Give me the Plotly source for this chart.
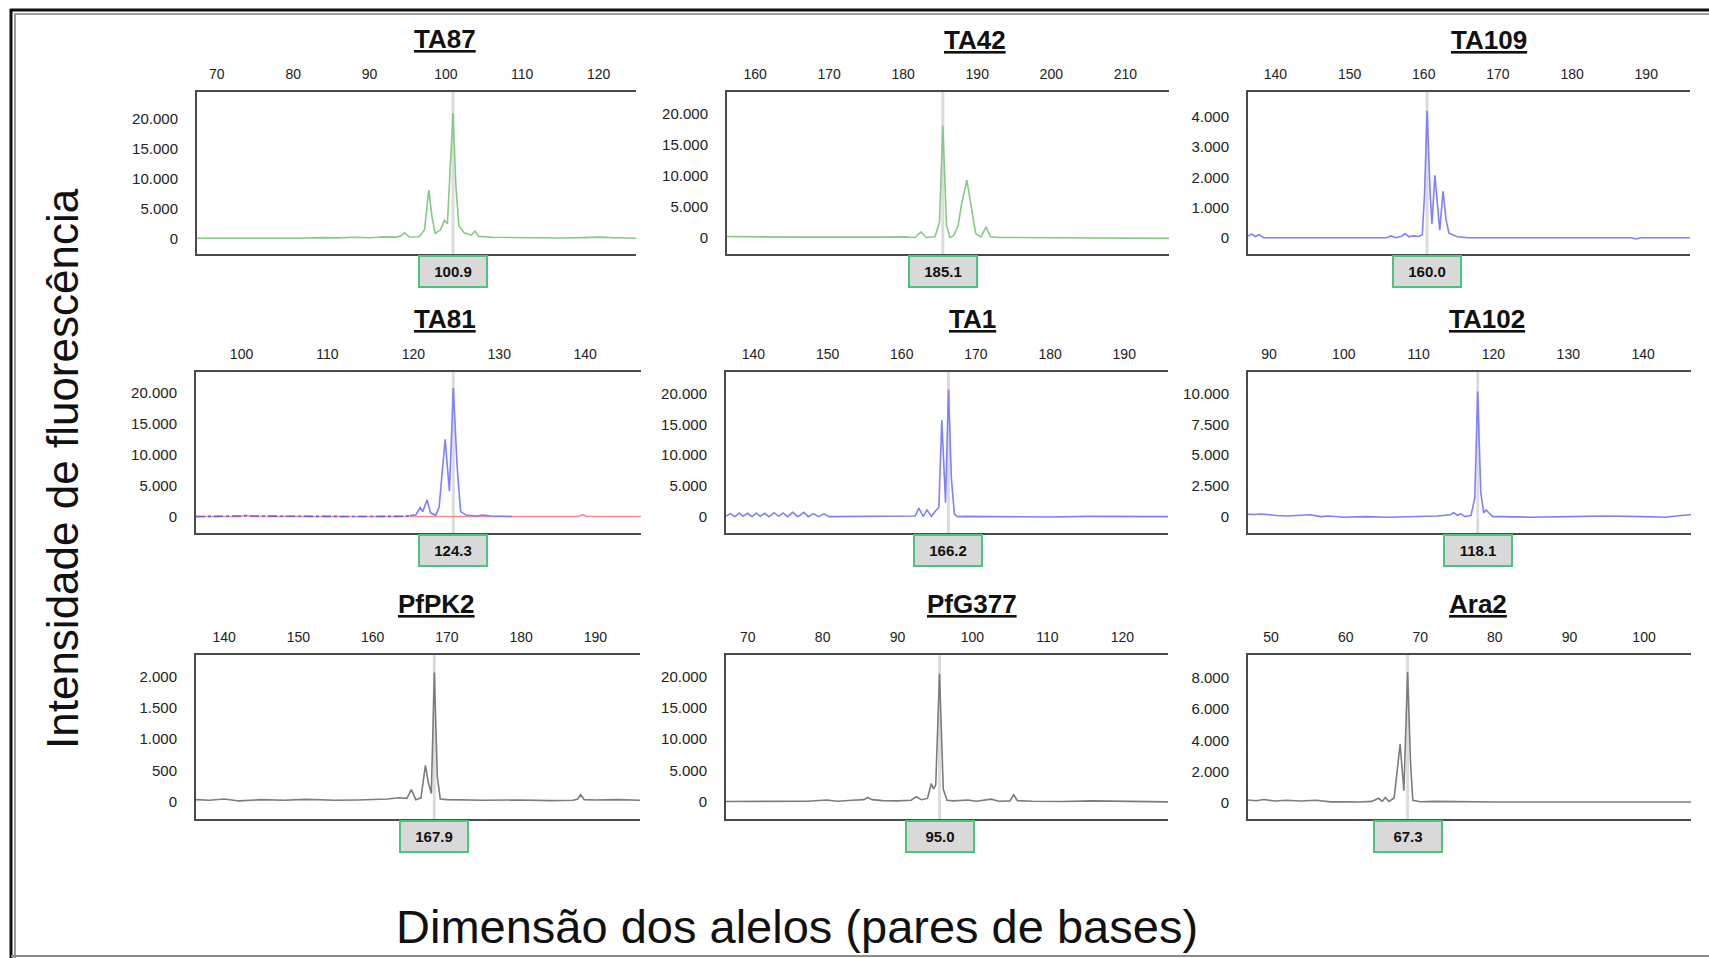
import plotly.graph_objects as go

W, H = 1709, 958

# ---------------- data ----------------
panel_names = ["TA87", "TA42", "TA109", "TA81", "TA1", "TA102", "PfPK2", "PfG377", "Ara2"]
allele_labels = ["100.9", "185.1", "160.0", "124.3", "166.2", "118.1", "167.9", "95.0", "67.3"]
guide_pos = [100.93, 185.35, 160.45, 124.65, 166.3, 117.9, 168.3, 95.6, 68.3]

x_ticks = [
    [70, 80, 90, 100, 110, 120],
    [160, 170, 180, 190, 200, 210],
    [140, 150, 160, 170, 180, 190],
    [100, 110, 120, 130, 140],
    [140, 150, 160, 170, 180, 190],
    [90, 100, 110, 120, 130, 140],
    [140, 150, 160, 170, 180, 190],
    [70, 80, 90, 100, 110, 120],
    [50, 60, 70, 80, 90, 100],
]
y_ticks = [
    [0, 5000, 10000, 15000, 20000],
    [0, 5000, 10000, 15000, 20000],
    [0, 1000, 2000, 3000, 4000],
    [0, 5000, 10000, 15000, 20000],
    [0, 5000, 10000, 15000, 20000],
    [0, 2500, 5000, 7500, 10000],
    [0, 500, 1000, 1500, 2000],
    [0, 5000, 10000, 15000, 20000],
    [0, 2000, 4000, 6000, 8000],
]
x_ranges = [
    [67.4, 124.9], [156.2, 215.9], [136.3, 195.9],
    [94.7, 146.5], [136.3, 195.9], [87.2, 146.4],
    [136.2, 196.0], [67.1, 126.1], [46.9, 106.3],
]
y_ranges = [
    [-2545, 24545], [-2680, 23570], [-540, 4830],
    [-2660, 23370], [-2660, 23550], [-1330, 11770],
    [-280, 2350], [-2800, 23500], [-1050, 9470],
]

TA87_x = [67.4, 72, 76, 80, 84, 86, 88, 90, 92, 93.5, 94.1, 94.6, 95.2, 96.5, 97.2, 97.76, 98.2, 98.6, 99.3, 99.8,
          100.2, 100.55, 100.93, 101.3, 101.7, 102.4, 103.3, 103.8, 104.3, 106, 110, 115, 118, 120, 122, 124.9]
TA87_y = [100, 80, 120, 100, 200, 150, 250, 180, 320, 280, 450, 1050, 300, 350, 1500, 8130, 3500, 900, 1500, 3080,
          2500, 12000, 21040, 9000, 2200, 1000, 600, 1300, 400, 250, 150, 120, 200, 280, 180, 100]

TA42_x = [156.2, 160, 165, 170, 175, 178, 180, 181.6, 182.4, 183.1, 184.3, 184.9, 185.35, 185.85, 186.3, 186.8,
          187.4, 187.9, 188.6, 189.2, 189.8, 190.5, 191.2, 191.8, 193, 200, 205, 210, 215.9]
TA42_y = [150, 80, 50, 60, 0, 50, 100, 0, 900, 0, 100, 2500, 18150, 2000, 0, 300,
          1850, 5500, 9300, 5200, 600, 100, 1700, 100, 0, -50, -50, -100, -150]

TA109_x = [136.3, 136.8, 137.3, 137.8, 138.4, 140, 145, 150, 155, 155.6, 156.2, 157.0, 157.5, 158.0, 158.6, 159.3,
           159.8, 160.1, 160.45, 160.85, 161.1, 161.5, 161.9, 162.15, 162.6, 163.0, 163.4, 163.8, 164.5, 166, 170,
           180, 188, 188.6, 189.2, 195.9]
TA109_y = [60, 120, 40, 100, 0, 0, 0, 0, 0, 60, 0, 50, 140, 30, 60, 40,
           100, 1400, 4210, 1500, 450, 2070, 900, 250, 1540, 600, 150, 100, 30, 0, 0,
           0, 0, -40, 0, 0]

TA81_base_x = [94.7, 100.5, 105.5, 110, 115, 119.0, 119.6]
TA81_base_y = [0, 100, 50, 0, 0, 50, 150]
TA81_x = [119.6, 120.3, 120.8, 121.1, 121.6, 122.0, 122.6, 123.0, 123.7, 124.2, 124.65, 125.1, 125.5, 126.2,
          127.5, 128, 129, 131.5]
TA81_y = [150, 300, 1470, 800, 2700, 600, 200, 1500, 12500, 4080, 20760, 8000, 800, 200,
          100, 250, 100, 0]
TA81_red_x = [94.7, 100, 100.5, 101, 139.2, 139.7, 140.2, 146.5]
TA81_red_y = [0, 0, 250, 0, 0, 300, 0, 0]

TA1_x = [136.3, 136.9, 137.5, 138.1, 138.6, 139.2, 139.8, 140.4, 140.9, 141.5, 142.1, 142.8, 143.4, 144.0, 144.6,
         145.3, 146.0, 146.8, 147.4, 148.1, 148.8, 149.5, 150.2, 155, 160, 161.8, 162.3, 162.9, 163.4, 164.0,
         164.6, 165.0, 165.4, 165.9, 166.3, 166.7, 167.1, 167.5, 168.5, 175, 180, 185, 190, 195.9]
TA1_y = [100, 500, 0, 600, 50, 550, 0, 600, 50, 550, 0, 650, 50, 600, 0,
         700, 0, 700, 0, 500, 0, 450, 0, 50, 0, 100, 1400, 0, 1100, 50,
         1000, 1500, 15700, 2300, 20700, 6000, 400, 0, 50, 0, -50, 50, 0, 0]

TA102_x = [87.2, 88, 89, 90, 91, 92.5, 94, 95.5, 97, 98, 100, 103, 106, 110, 112.5, 114.2, 114.7, 115.2, 115.6,
           116.2, 117.0, 117.5, 117.9, 118.3, 118.7, 119.0, 119.5, 119.9, 121, 125, 130, 135, 140, 143, 145, 146.4]
TA102_y = [200, 180, 220, 150, 100, 50, 80, 150, 0, 50, -50, 0, -50, 0, 50, 150, 330, 100, 250,
           0, 100, 1500, 10190, 2000, 300, 540, 250, 0, 0, -50, 0, 50, 0, -50, 100, 150]

PfPK2_x = [136.2, 138, 140, 142, 145, 148, 151, 155, 158, 160, 162, 163.5, 164.6, 165.2, 165.8, 166.5, 166.8,
           167.1, 167.5, 167.9, 168.3, 168.7, 169.1, 170, 175, 180, 184, 187, 187.6, 188.0, 188.5, 190, 193, 196.0]
PfPK2_y = [30, 20, 40, 10, 30, 20, 35, 20, 25, 30, 40, 60, 50, 190, 30, 60, 350,
           580, 300, 130, 2070, 400, 40, 30, 20, 25, 15, 20, 40, 110, 30, 25, 30, 20]

PfG377_x = [67.1, 70, 75, 78, 80.5, 82, 84, 85.5, 86.0, 86.6, 88, 90, 91.8, 92.5, 93.2, 94.0, 94.5, 94.8, 95.1,
            95.6, 96.1, 96.6, 97.5, 99.4, 100.5, 102.5, 103.5, 105.0, 105.5, 106.0, 108, 112, 116, 120, 126.1]
PfG377_y = [0, 0, 100, 50, 250, 50, 200, 300, 650, 300, 150, 100, 200, 760, 300, 500, 2900, 2000, 2700,
            20500, 2000, 200, 100, 250, 50, 380, 50, 100, 1090, 150, 50, 0, 100, 0, -50]

Ara2_x = [46.9, 48, 49, 50.5, 52, 54, 56, 58, 60, 62, 63.5, 64.4, 64.9, 65.3, 65.8, 66.5, 67.3, 67.8, 68.3, 68.7,
          69.0, 70, 72, 74, 76, 80, 90, 100, 106.3]
Ara2_y = [170, 120, 200, 100, 150, 100, 150, 50, 60, 40, 80, 280, 80, 330, 80, 300, 3760, 760, 8370, 2500,
          150, 60, 80, 60, 40, 40, 40, 40, 40]

# ---------------- styling / layout ----------------
GREEN = "#86c986"
BLUE = "#7f7fff"
GRAY = "#7c7c7c"
RED = "#ff8c8c"
FONT = "Liberation Sans, Arial, sans-serif"


def fmt_thousands(v):
    return f"{v:,}".replace(",", ".")


# plot boxes in pixels: left, top, right, bottom
boxes = [
    (197, 92, 636, 254), (727, 92, 1169, 254), (1248, 92, 1690, 254),
    (196, 372, 641, 533), (726, 372, 1168, 533), (1248, 372, 1691, 533),
    (196, 655, 640, 819), (726, 655, 1168, 819), (1248, 655, 1691, 819),
]
title_pos = [(445, 39), (975, 40), (1489, 40), (445, 319), (972, 319), (1487, 319),
             (436, 604), (972, 604), (1478, 604)]

series = [
    [(TA87_x, TA87_y, GREEN, "solid")],
    [(TA42_x, TA42_y, GREEN, "solid")],
    [(TA109_x, TA109_y, BLUE, "solid")],
    [(TA81_red_x, TA81_red_y, RED, "solid"), (TA81_base_x, TA81_base_y, "#7a5ad8", "dashdot"),
     (TA81_x, TA81_y, BLUE, "solid")],
    [(TA1_x, TA1_y, BLUE, "solid")],
    [(TA102_x, TA102_y, BLUE, "solid")],
    [(PfPK2_x, PfPK2_y, GRAY, "solid")],
    [(PfG377_x, PfG377_y, GRAY, "solid")],
    [(Ara2_x, Ara2_y, GRAY, "solid")],
]

fig = go.Figure()
shapes = []
annotations = []
layout_axes = {}

for i in range(9):
    n = i + 1
    xa = "x" if n == 1 else f"x{n}"
    ya = "y" if n == 1 else f"y{n}"
    l, t, r, b = boxes[i]
    for (xs, ys, col, dash) in series[i]:
        fig.add_trace(go.Scatter(x=xs, y=ys, mode="lines", xaxis=xa, yaxis=ya,
                                 line=dict(color=col, width=1.6, dash=dash),
                                 hoverinfo="skip", showlegend=False))
    layout_axes["xaxis" if n == 1 else f"xaxis{n}"] = dict(
        domain=[l / W, r / W], anchor=ya, side="top", range=x_ranges[i],
        tickmode="array", tickvals=x_ticks[i], ticktext=[str(v) for v in x_ticks[i]],
        showgrid=False, zeroline=False,
        showline=True, mirror=True, linecolor="#4a4a4a", linewidth=2,
        ticks="outside", ticklen=5, tickcolor="rgba(0,0,0,0)",
        tickfont=dict(family=FONT, size=14, color="#222"),
    )
    layout_axes["yaxis" if n == 1 else f"yaxis{n}"] = dict(
        domain=[1 - b / H, 1 - t / H], anchor=xa, range=y_ranges[i],
        tickmode="array", tickvals=y_ticks[i], ticktext=[fmt_thousands(v) for v in y_ticks[i]],
        showgrid=False, zeroline=False,
        showline=True, mirror=False, linecolor="#4a4a4a", linewidth=2,
        ticks="outside", ticklen=14, tickcolor="rgba(0,0,0,0)",
        tickfont=dict(family=FONT, size=15, color="#222"),
    )
    # allele guide line
    shapes.append(dict(type="line", xref=xa, yref=f"{ya} domain", x0=guide_pos[i], x1=guide_pos[i],
                       y0=0, y1=1, line=dict(color="#dcdcdc", width=3), layer="below"))
    # allele label box
    annotations.append(dict(x=guide_pos[i], xref=xa, y=1 - (b + 1) / H, yref="paper",
                            xanchor="center", yanchor="top", showarrow=False,
                            text=f"<b>{allele_labels[i]}</b>", width=66, height=29,
                            bgcolor="#d9d9d9", bordercolor="#4cc47c", borderwidth=2, borderpad=0,
                            font=dict(family=FONT, size=15, color="#111")))
    # panel title
    tx, ty = title_pos[i]
    annotations.append(dict(x=tx / W, y=1 - ty / H, xref="paper", yref="paper",
                            xanchor="center", yanchor="middle", showarrow=False,
                            text=f"<b><u>{panel_names[i]}</u></b>",
                            font=dict(family=FONT, size=26, color="#111")))

# axis titles
annotations.append(dict(x=62 / W, y=1 - 469 / H, xref="paper", yref="paper", showarrow=False,
                        text="Intensidade de fluorescência", textangle=-90,
                        xanchor="center", yanchor="middle",
                        font=dict(family=FONT, size=44, color="#111")))
annotations.append(dict(x=797 / W, y=1 - 926 / H, xref="paper", yref="paper", showarrow=False,
                        text="Dimensão dos alelos (pares de bases)",
                        xanchor="center", yanchor="middle",
                        font=dict(family=FONT, size=47, color="#111")))


# outer frame
def px_line(x0, y0, x1, y1, color, width):
    return dict(type="line", xref="paper", yref="paper", x0=x0 / W, x1=x1 / W,
                y0=1 - y0 / H, y1=1 - y1 / H, line=dict(color=color, width=width), layer="above")


shapes += [
    px_line(10, 10, W, 10, "#111", 3),
    px_line(14, 14, W, 14, "#9a9a9a", 2),
    px_line(11, 9, 11, H, "#111", 3),
    px_line(15, 14, 15, H, "#9a9a9a", 2),
    px_line(11, 956, W, 956, "#8a8a8a", 2),
]

fig.update_layout(
    width=W, height=H, margin=dict(l=0, r=0, t=0, b=0),
    paper_bgcolor="white", plot_bgcolor="white",
    showlegend=False,
    shapes=shapes, annotations=annotations, **layout_axes,
)

fig.write_html("out.html", config={"displayModeBar": False})
